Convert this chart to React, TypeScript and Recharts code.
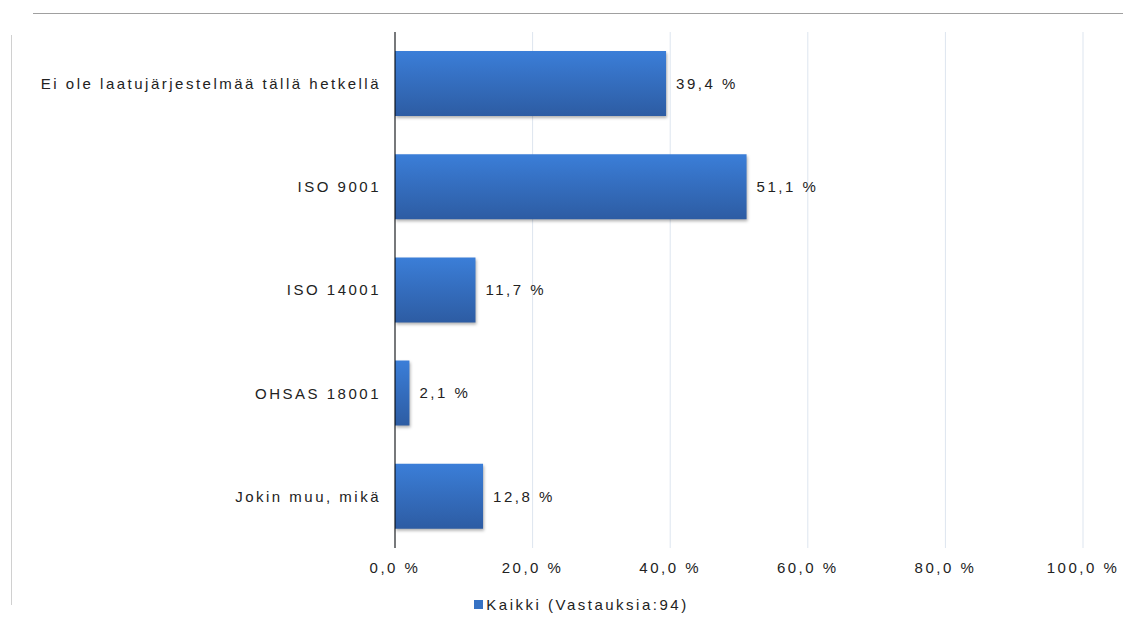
import { BarChart, Bar, XAxis, YAxis, CartesianGrid, Legend, LabelList } from "recharts";

const categories = [
  "Ei ole laatujärjestelmää tällä hetkellä",
  "ISO 9001",
  "ISO 14001",
  "OHSAS 18001",
  "Jokin muu, mikä",
];
const kaikki = [39.4, 51.1, 11.7, 2.1, 12.8];
const xTicks = [0, 20, 40, 60, 80, 100];
const seriesName = "Kaikki (Vastauksia:94)";

const data = categories.map((name, i) => ({ name, kaikki: kaikki[i] }));

const pct = (v: number) => `${Number(v).toFixed(1).replace(".", ",")} %`;

const textStyle = {
  fontSize: 15,
  fontFamily: "Arial, 'Liberation Sans', sans-serif",
  letterSpacing: 2.5,
  fill: "#222",
};

function LegendContent() {
  return (
    <div
      style={{
        display: "flex",
        justifyContent: "center",
        alignItems: "center",
        paddingLeft: 30,
        fontSize: 15,
        fontFamily: "Arial, 'Liberation Sans', sans-serif",
        letterSpacing: 2.5,
        color: "#222",
        height: 20,
      }}
    >
      <span style={{ width: 9, height: 9, background: "#3672c4", marginRight: 3 }} />
      <span>{seriesName}</span>
    </div>
  );
}

export default function App() {
  return (
    <div style={{ position: "fixed", left: 0, top: 0, width: 1133, height: 621, background: "#fff" }}>
      {/* frame lines around the chart */}
      <div style={{ position: "absolute", left: 33, top: 13, width: 1090, height: 1, background: "#a0a0a0" }} />
      <div style={{ position: "absolute", left: 11, top: 35, width: 1, height: 570, background: "#d0d0d0" }} />
      <BarChart
        width={1133}
        height={621}
        data={data}
        layout="vertical"
        margin={{ top: 32, right: 50, left: 10, bottom: 7 }}
      >
        <defs>
          <linearGradient id="barFill" x1="0" y1="0" x2="0" y2="1">
            <stop offset="0%" stopColor="#3b7ed8" />
            <stop offset="100%" stopColor="#2d5ca3" />
          </linearGradient>
        </defs>
        <CartesianGrid horizontal={false} stroke="#dde5ef" />
        <XAxis
          type="number"
          domain={[0, 100]}
          ticks={xTicks}
          tickFormatter={pct}
          axisLine={false}
          tickLine={false}
          tickMargin={8}
          height={46}
          tick={textStyle}
        />
        <YAxis
          type="category"
          dataKey="name"
          width={385}
          axisLine={{ stroke: "#000" }}
          tickLine={false}
          tickMargin={8}
          tick={textStyle}
        />
        <Legend verticalAlign="bottom" content={LegendContent} wrapperStyle={{ left: 0, width: 1133 }} />
        <Bar
          dataKey="kaikki"
          name={seriesName}
          fill="url(#barFill)"
          barSize={65}
          style={{ filter: "drop-shadow(1px 2px 1.5px rgba(0,0,0,0.3))" }}
          isAnimationActive={false}
        >
          <LabelList dataKey="kaikki" position="right" offset={10} formatter={pct} style={textStyle} />
        </Bar>
      </BarChart>
    </div>
  );
}
